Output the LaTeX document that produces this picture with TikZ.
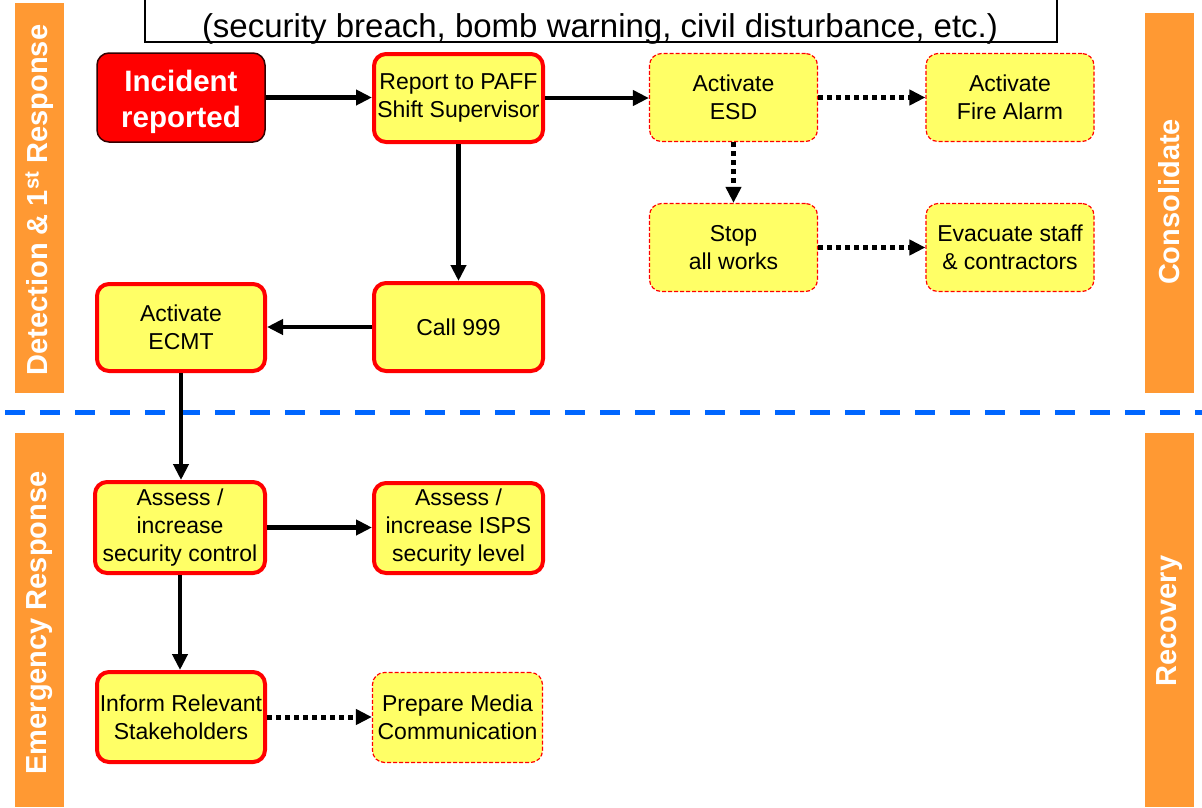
\documentclass[tikz,border=0pt]{standalone}
\usepackage{fontspec}
\setmainfont{Liberation Sans}
\usetikzlibrary{arrows.meta}
\definecolor{yel}{HTML}{FFFF66}
\definecolor{org}{HTML}{FF9933}
\definecolor{blu}{HTML}{0066FF}
\definecolor{redc}{HTML}{FF0000}
\tikzset{
  box/.style={rounded corners=12pt, fill=yel, align=center, inner sep=0pt,
    font=\fontsize{23}{28}\selectfont},
  solidbox/.style={box, draw=redc, line width=4pt},
  dashbox/.style={box, draw=redc, line width=1.2pt, dash pattern=on 4pt off 2pt},
  bar/.style={fill=org, draw=none},
  bartext/.style={rotate=90, text=white, font=\fontsize{29}{34}\selectfont\bfseries},
  conn/.style={line width=4.5pt, -{Triangle[length=16pt,width=15pt]}},
  dotconn/.style={conn, line width=5pt, dash pattern=on 5pt off 4pt},
}
\begin{document}
\begin{tikzpicture}[x=1pt,y=-1pt]
\clip (0,0) rectangle (1202,807);
\fill[white] (0,0) rectangle (1202,807);
% side bars
\fill[bar] (15,3) rectangle (64,393);
\fill[bar] (15,433) rectangle (64,807);
\fill[bar] (1145,13) rectangle (1194,393);
\fill[bar] (1145,433) rectangle (1194,807);
\node[bartext] (t1) at (39.5,200) {Detection \& 1\textsuperscript{st} Response};
\node[bartext] (t2) at (39.5,623) {Emergency Response};
\node[bartext] (t3) at (1169.5,202) {Consolidate};
\node[bartext] (t4) at (1169.5,621) {Recovery};
% title box
\draw[line width=1.2pt] (145,-5) rectangle (1057,42);
\node[anchor=base, font=\fontsize{33}{38}\selectfont] (title) at (600,37) {(security breach, bomb warning, civil disturbance, etc.)};
% separator
\draw[blu, line width=5pt, dash pattern=on 20pt off 15pt, dash phase=30pt] (0,412) -- (1202,412);
% nodes
\node[rounded corners=12pt, fill=redc, draw=black!80!red, line width=1.5pt, minimum width=168pt, minimum height=89pt,
  inner sep=0pt,
  label={[align=center, inner sep=0pt, text=white, font=\fontsize{29.5}{36}\selectfont\bfseries, yshift=-4pt]center:Incident\\reported}] (inc) at (181,97.5) {};
\node[solidbox, minimum width=169pt, minimum height=88pt] (rep) at (458.5,98) {Report to PAFF\\Shift Supervisor};
\node[solidbox, minimum width=169pt, minimum height=88pt] (call) at (458.5,327) {Call 999};
\node[solidbox, minimum width=168pt, minimum height=87pt] (ecmt) at (181,327.5) {Activate\\ECMT};
\node[dashbox, minimum width=168pt, minimum height=88pt] (esd) at (733.5,97.5) {Activate\\ESD};
\node[dashbox, minimum width=168pt, minimum height=88pt] (fire) at (1010,97.5) {Activate\\Fire Alarm};
\node[dashbox, minimum width=168pt, minimum height=88pt] (stop) at (733.5,247.5) {Stop\\all works};
\node[dashbox, minimum width=168pt, minimum height=88pt] (evac) at (1010,247.5) {Evacuate staff\\\& contractors};
\node[solidbox, minimum width=170pt, minimum height=91pt] (assess) at (180,527.5) {Assess /\\increase\\security control};
\node[solidbox, minimum width=169pt, minimum height=90pt] (isps) at (458.5,528) {Assess /\\increase ISPS\\security level};
\node[solidbox, minimum width=168pt, minimum height=90pt] (inform) at (181,717) {Inform Relevant\\Stakeholders};
\node[dashbox, minimum width=170pt, minimum height=90pt] (media) at (457.5,717.5) {Prepare Media\\Communication};
% connectors
\draw[conn] (inc.east) -- (inc.east -| rep.west);
\draw[conn] (rep.east) -- (rep.east -| esd.west);
\draw[dotconn] (esd.east) -- (esd.east -| fire.west);
\draw[dotconn] (esd.south) -- (stop.north);
\draw[dotconn] (stop.east) -- (stop.east -| evac.west);
\draw[conn] (rep.south) -- (call.north);
\draw[conn] (call.west) -- (call.west -| ecmt.east);
\draw[conn] (ecmt.south) -- (ecmt.south |- assess.north);
\draw[conn] (assess.east) -- (assess.east -| isps.west);
\draw[conn] (assess.south) -- (assess.south |- inform.north);
\draw[dotconn] (inform.east) -- (inform.east -| media.west);
\end{tikzpicture}
\end{document}
